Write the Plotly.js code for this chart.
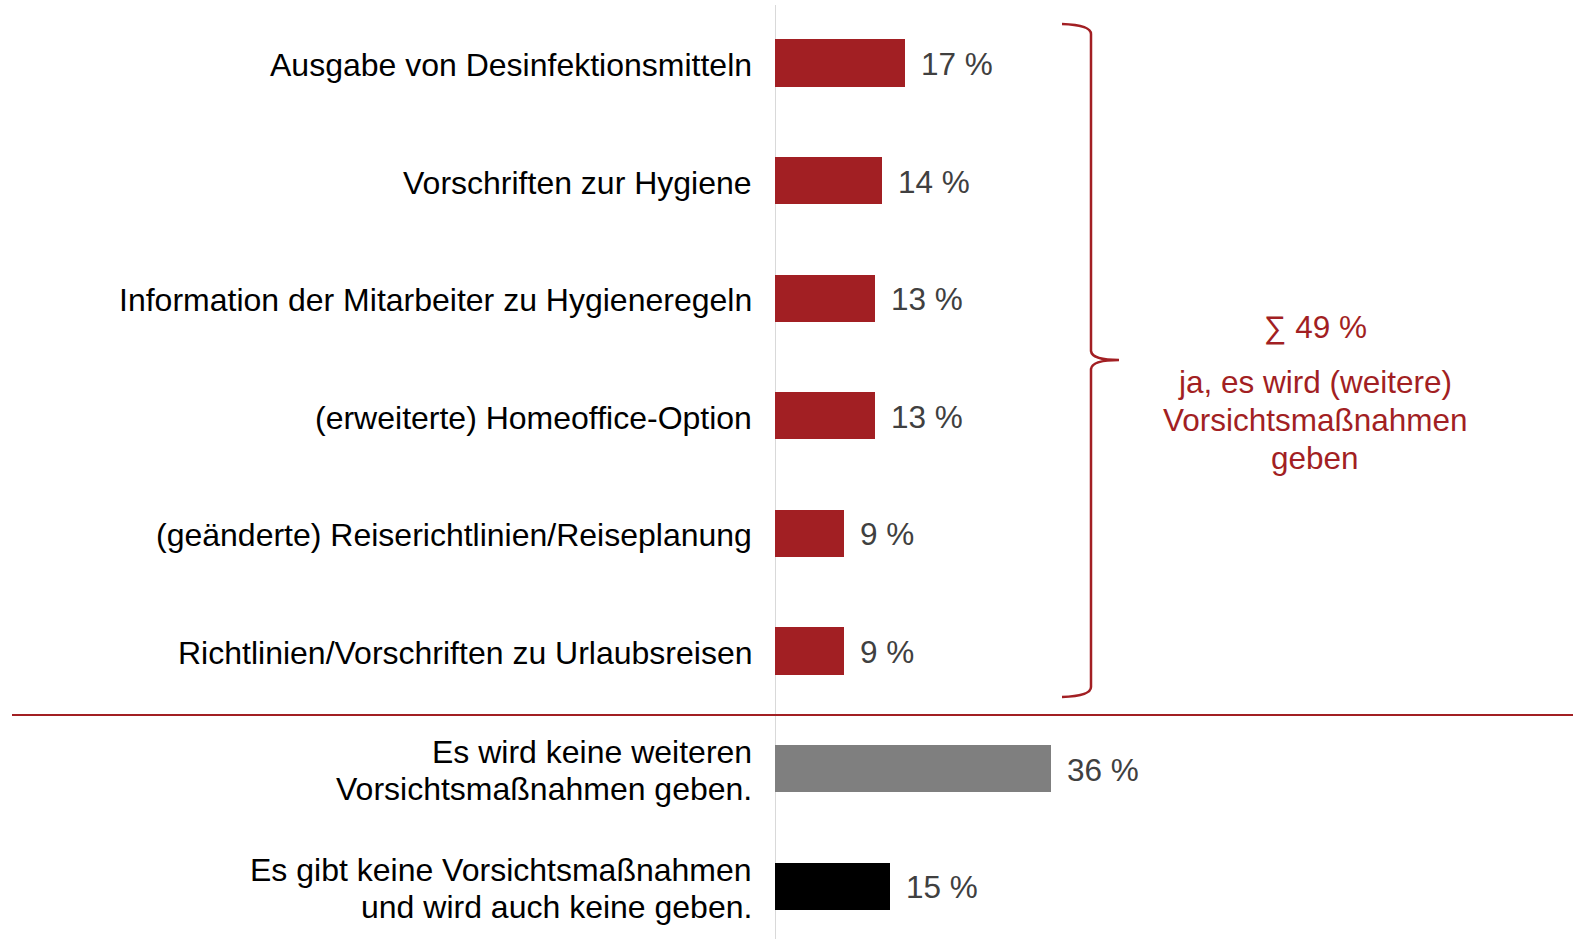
<!DOCTYPE html>
<html>
<head>
<meta charset="utf-8">
<script src="https://cdn.plot.ly/plotly-3.0.1.min.js"></script>
<style>html,body{margin:0;padding:0;background:#fff;}#chart{width:1586px;height:939px;}</style>
</head>
<body>
<div id="chart"></div>
<script>
// ---- data ----
const categories = [
  "Ausgabe von Desinfektionsmitteln",
  "Vorschriften zur Hygiene",
  "Information der Mitarbeiter zu Hygieneregeln",
  "(erweiterte) Homeoffice-Option",
  "(geänderte) Reiserichtlinien/Reiseplanung",
  "Richtlinien/Vorschriften zu Urlaubsreisen",
  "Es wird keine weiteren<br>Vorsichtsmaßnahmen geben.",
  "Es gibt keine Vorsichtsmaßnahmen<br>und wird auch keine geben."
];
const values = [17, 14, 13, 13, 9, 9, 36, 15];
const valueLabels = ["17 %", "14 %", "13 %", "13 %", "9 %", "9 %", "36 %", "15 %"];
const groupSumLabel = "∑ 49 %";
const groupNoteLines = ["ja, es wird (weitere)", "Vorsichtsmaßnahmen", "geben"];

// ---- styles ----
const RED = "#a21f23";
const barColors = [RED, RED, RED, RED, RED, RED, "#7f7f7f", "#000000"];
const FONT = "Liberation Sans, Arial, sans-serif";
const FS = 31.5;
const FSL = 32;

const W = 1586, H = 939, L = 775;
const plotW = W - L;
const pxPerUnit = 7.66;
const px = v => (v - L) / plotW;      // pixel x -> paper
const py = v => 1 - v / H;            // pixel y -> paper

const trace = {
  type: "bar",
  orientation: "h",
  x: values,
  y: categories,
  width: 0.4,
  marker: {color: barColors, line: {width: 0}},
  hoverinfo: "skip",
  cliponaxis: false
};

const annotations = [];
categories.forEach((c, i) => {
  const lines = c.split("<br>");
  const n = lines.length;
  lines.forEach((ln, k) => {
    annotations.push({
      x: 0, y: c, xref: "x", yref: "y",
      text: ln, showarrow: false,
      xanchor: "right", yanchor: "middle",
      xshift: -21, yshift: (n - 1) * 18.5 - k * 37 - 2,
      font: {family: FONT, size: FSL, color: "#000000"}
    });
  });
  annotations.push({
    x: values[i], y: c, xref: "x", yref: "y",
    text: valueLabels[i], showarrow: false,
    xanchor: "left", yanchor: "middle", xshift: 14, yshift: -1,
    font: {family: FONT, size: FS, color: "#404040"}
  });
});

annotations.push({
  x: px(1315), y: py(327), xref: "paper", yref: "paper",
  text: groupSumLabel, showarrow: false, xanchor: "center", yanchor: "middle",
  font: {family: FONT, size: FS, color: RED}
});
const noteY = [382, 420, 458];
groupNoteLines.forEach((t, k) => {
  annotations.push({
    x: px(1315), y: py(noteY[k]), xref: "paper", yref: "paper",
    text: t, showarrow: false, xanchor: "center", yanchor: "middle",
    font: {family: FONT, size: FS, color: RED}
  });
});

function P(x, y) { return px(x).toFixed(5) + "," + py(y).toFixed(5); }
const bracketPath =
  "M" + P(1062, 24) + " Q" + P(1091, 25) + " " + P(1091, 34) +
  " L" + P(1091, 351) + " Q" + P(1092, 360) + " " + P(1119, 360) +
  " Q" + P(1092, 360) + " " + P(1091, 369) +
  " L" + P(1091, 687) + " Q" + P(1091, 696) + " " + P(1062, 697);

const shapes = [
  {type: "line", xref: "x", yref: "paper", x0: 0, x1: 0, y0: 0, y1: py(5),
   line: {color: "#d9d9d9", width: 2}, layer: "below"},
  {type: "line", xref: "paper", yref: "paper", x0: px(12), x1: px(1573), y0: py(715), y1: py(715),
   line: {color: RED, width: 2}},
  {type: "path", xref: "paper", yref: "paper", path: bracketPath,
   line: {color: RED, width: 2.5}}
];

const layout = {
  width: W, height: H,
  margin: {l: L, r: 0, t: 0, b: 0, pad: 0},
  paper_bgcolor: "#ffffff", plot_bgcolor: "#ffffff",
  showlegend: false,
  bargap: 0,
  xaxis: {range: [0, plotW / pxPerUnit], visible: false, fixedrange: true},
  yaxis: {type: "category", range: [(H - 63) / 117.6, -63 / 117.6], visible: false,
          fixedrange: true, categoryorder: "array", categoryarray: categories},
  annotations: annotations,
  shapes: shapes,
  font: {family: FONT}
};

Plotly.newPlot("chart", [trace], layout, {displayModeBar: false, staticPlot: true});
</script>
</body>
</html>
